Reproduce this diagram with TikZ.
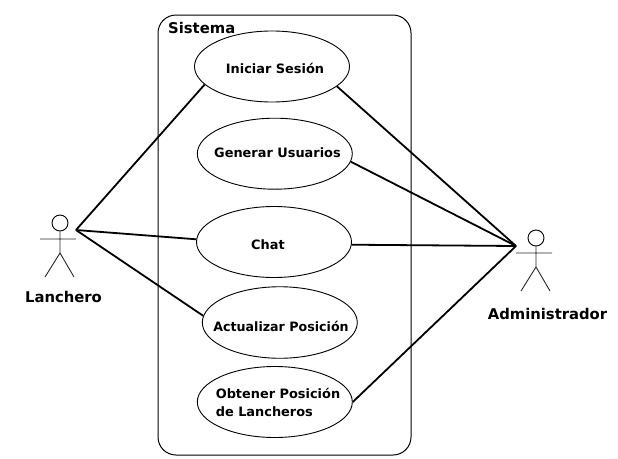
\documentclass[tikz,border=0pt]{standalone}
\usepackage{fontspec}
\usepackage{graphicx}
\setmainfont{DejaVu Sans}
\usetikzlibrary{shapes.geometric}
\tikzset{
  usecase/.style={draw,ellipse,line width=0.9pt,fill=white,minimum width=155pt,minimum height=71pt,inner sep=0pt},
  casetext/.style={inner sep=0pt,align=left,font=\bfseries\fontsize{12.9}{18}\selectfont},
  link/.style={line width=1.8pt},
  stick/.style={line width=0.9pt,draw=black!85},
  biglabel/.style={inner sep=0pt,font=\bfseries\fontsize{14.8}{16}\selectfont},
  head/.style={draw,circle,line width=0.9pt,minimum size=16pt,inner sep=0pt}
}
\begin{document}
\begin{tikzpicture}[x=1pt,y=-1pt]
\useasboundingbox (0,0) rectangle (618,458);
\fill[white] (0,0) rectangle (618,458);
\draw[line width=1pt,rounded corners=18pt] (158,15) rectangle (411,455);
\node[biglabel,anchor=west] (sis) at (168,28) {Sistema};
\node[usecase] (e1) at (272,66.5) {};
\node[casetext] (t1) at (275,68) {Iniciar Sesión};
\node[usecase] (e2) at (274.8,153.7) {};
\node[casetext] (t2) at (277.5,153) {Generar Usuarios};
\node[usecase] (e3) at (274,242) {};
\node[casetext] (t3) at (268,245) {Chat};
\node[usecase,minimum height=71.5pt] (e4) at (279.8,322.5) {};
\node[casetext] (t4) at (281,326) {\scalebox{0.98}[1]{Actualizar Posición}};
\node[usecase] (e5) at (274.8,402) {};
\node[casetext] (t5) at (278,402) {Obtener Posición\\de Lancheros};
% Lanchero actor
\node[head] (hl) at (60,223) {};
\coordinate (lb) at (60,253);
\coordinate (la1) at (40,239);
\coordinate (la2) at (76,239);
\coordinate (ll1) at (45,277);
\coordinate (ll2) at (74,277);
\draw[stick] (hl) -- (lb) (la1) -- (la2) (ll1) -- (lb) -- (ll2);
\node[biglabel] (lname) at (63.5,297) {Lanchero};
% Administrador actor
\node[head] (hr) at (536,238) {};
\coordinate (rb) at (536,267);
\coordinate (ra1) at (516,253);
\coordinate (ra2) at (552,253);
\coordinate (rl1) at (521,291);
\coordinate (rl2) at (550,291);
\draw[stick] (hr) -- (rb) (ra1) -- (ra2) (rl1) -- (rb) -- (rl2);
\node[biglabel] (rname) at (547.5,314) {Administrador};
% connectors
\coordinate (hubl) at (76,230);
\coordinate (hubr) at (516,246);
\draw[link] (hubl) -- (e1.195);
\draw[link] (hubl) -- (e3.178);
\draw[link] (hubl) -- (e4.175.5);
\draw[link] (hubr) -- (e1.343);
\draw[link] (hubr) -- (e2.354);
\draw[link] (hubr) -- (e3.358);
\draw[link] (hubr) -- (e5.0);
\end{tikzpicture}
\end{document}
